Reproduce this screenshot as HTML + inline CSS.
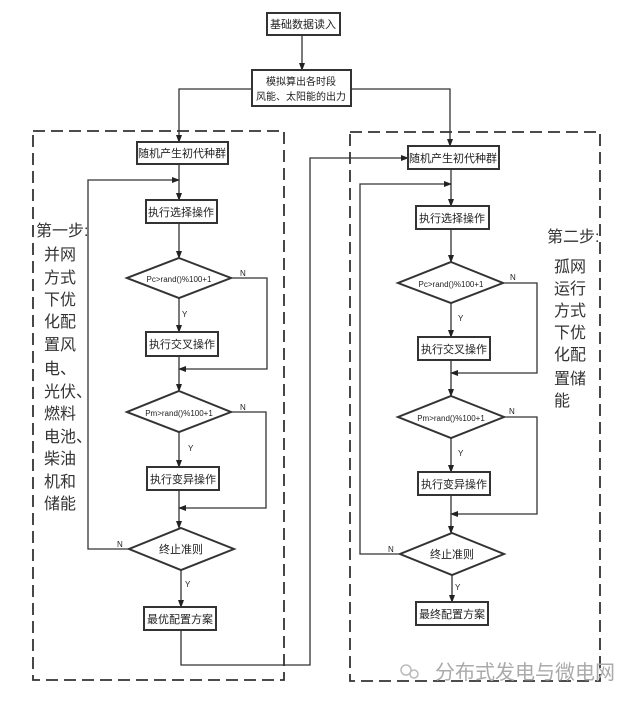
<!DOCTYPE html>
<html><head><meta charset="utf-8"><style>
html,body{margin:0;padding:0;background:#fff;width:640px;height:702px;overflow:hidden}
svg text{font-family:"Liberation Sans","Noto Sans CJK SC",sans-serif}
</style></head><body>
<svg width="640" height="702" viewBox="0 0 640 702" xmlns="http://www.w3.org/2000/svg">
<defs><marker id="a" markerWidth="8" markerHeight="8" refX="7" refY="4" orient="auto" markerUnits="userSpaceOnUse"><path d="M0,1 L8,4 L0,7 z" fill="#222"/></marker></defs>
<g fill="none" stroke="#333" stroke-width="1.3">
<rect x="33" y="131" width="251" height="549" stroke-dasharray="12,6" stroke-width="1.8"/>
<rect x="350" y="132" width="250" height="549" stroke-dasharray="12,6" stroke-width="1.8"/>
<rect x="267" y="13" width="73" height="22" stroke-width="2"/>
<line x1="302" y1="35" x2="302" y2="70" marker-end="url(#a)"/>
<rect x="252" y="70" width="99" height="36" stroke-width="2"/>
<polyline points="252,89 179,89 179,142" marker-end="url(#a)"/>
<polyline points="351,89 450,89 450,146" marker-end="url(#a)"/>
<rect x="137" y="142" width="91" height="22" stroke-width="2"/>
<line x1="179" y1="164" x2="179" y2="200" marker-end="url(#a)"/>
<polyline points="129,549 88,549 88,180 179,180" marker-end="url(#a)"/>
<rect x="146" y="200" width="71" height="23" stroke-width="2"/>
<line x1="179" y1="223" x2="179" y2="258" marker-end="url(#a)"/>
<polygon points="179,258 231,278 179,298 127,278" stroke-width="2"/>
<polyline points="231,278 267,278 267,369 179,369" marker-end="url(#a)"/>
<line x1="179" y1="298" x2="179" y2="332" marker-end="url(#a)"/>
<rect x="146" y="332" width="72" height="24" stroke-width="2"/>
<line x1="179" y1="356" x2="179" y2="391" marker-end="url(#a)"/>
<polygon points="179,391 231,412 179,432 127,412" stroke-width="2"/>
<polyline points="231,412 266,412 266,508 179,508" marker-end="url(#a)"/>
<line x1="179" y1="432" x2="179" y2="467" marker-end="url(#a)"/>
<rect x="147" y="467" width="72" height="23" stroke-width="2"/>
<line x1="179" y1="490" x2="179" y2="528" marker-end="url(#a)"/>
<polygon points="181,528 234,549 181,570 129,549" stroke-width="2"/>
<line x1="181" y1="570" x2="181" y2="607" marker-end="url(#a)"/>
<rect x="144" y="607" width="72" height="23" stroke-width="2"/>
<polyline points="181,630 181,665 310,665 310,158 408,158" marker-end="url(#a)"/>
<rect x="408" y="146" width="91" height="23" stroke-width="2"/>
<line x1="451" y1="169" x2="451" y2="206" marker-end="url(#a)"/>
<polyline points="400,554 360,554 360,184 451,184" marker-end="url(#a)"/>
<rect x="416" y="206" width="73" height="23" stroke-width="2"/>
<line x1="451" y1="229" x2="451" y2="262" marker-end="url(#a)"/>
<polygon points="451,262 503,283 451,303 398,283" stroke-width="2"/>
<polyline points="503,283 537,283 537,373 451,373" marker-end="url(#a)"/>
<line x1="451" y1="303" x2="451" y2="337" marker-end="url(#a)"/>
<rect x="418" y="337" width="72" height="23" stroke-width="2"/>
<line x1="451" y1="360" x2="451" y2="396" marker-end="url(#a)"/>
<polygon points="451,396 504,417 451,438 398,417" stroke-width="2"/>
<polyline points="504,417 537,417 537,514 451,514" marker-end="url(#a)"/>
<line x1="451" y1="438" x2="451" y2="472" marker-end="url(#a)"/>
<rect x="418" y="472" width="72" height="23" stroke-width="2"/>
<line x1="451" y1="495" x2="451" y2="533" marker-end="url(#a)"/>
<polygon points="452,533 504,554 452,575 400,554" stroke-width="2"/>
<line x1="452" y1="575" x2="452" y2="602" marker-end="url(#a)"/>
<rect x="416" y="602" width="72" height="23" stroke-width="2"/>
</g>
<g font-size="11" fill="#222" text-anchor="middle">
<text x="303" y="28">基础数据读入</text>
<text x="301" y="85" font-size="10">模拟算出各时段</text>
<text x="301" y="100" font-size="10">风能、太阳能的出力</text>
<text x="182" y="157">随机产生初代种群</text>
<text x="181" y="216">执行选择操作</text>
<text x="179" y="282" font-size="8">Pc&gt;rand()%100+1</text>
<text x="182" y="348">执行交叉操作</text>
<text x="179" y="416" font-size="8">Pm&gt;rand()%100+1</text>
<text x="183" y="483">执行变异操作</text>
<text x="181" y="553">终止准则</text>
<text x="180" y="623">最优配置方案</text>
<text x="453" y="162">随机产生初代种群</text>
<text x="452" y="222">执行选择操作</text>
<text x="451" y="287" font-size="8">Pc&gt;rand()%100+1</text>
<text x="454" y="353">执行交叉操作</text>
<text x="451" y="421" font-size="8">Pm&gt;rand()%100+1</text>
<text x="454" y="488">执行变异操作</text>
<text x="452" y="558">终止准则</text>
<text x="452" y="618">最终配置方案</text>
</g>
<g font-size="8" fill="#222">
<text x="240" y="276">N</text><text x="182" y="317">Y</text>
<text x="240" y="410">N</text><text x="188" y="451">Y</text>
<text x="117" y="547">N</text><text x="185" y="587">Y</text>
<text x="510" y="280">N</text><text x="458" y="321">Y</text>
<text x="509" y="414">N</text><text x="458" y="456">Y</text>
<text x="388" y="552">N</text><text x="455" y="590">Y</text>
</g>
<g font-size="16" fill="#333">
<text x="36" y="236">第一步:</text>
<text x="44" y="260">并网</text><text x="44" y="283">方式</text><text x="44" y="305">下优</text>
<text x="44" y="327">化配</text><text x="44" y="350">置风</text><text x="44" y="374">电、</text>
<text x="44" y="397">光伏、</text><text x="44" y="419">燃料</text><text x="44" y="442">电池、</text>
<text x="44" y="464">柴油</text><text x="44" y="487">机和</text><text x="44" y="509">储能</text>
<text x="547" y="242">第二步:</text>
<text x="554" y="272">孤网</text><text x="554" y="294">运行</text><text x="554" y="316">方式</text>
<text x="554" y="338">下优</text><text x="554" y="360">化配</text><text x="554" y="384">置储</text>
<text x="554" y="406">能</text>
</g>
<g fill="none" stroke="#bbb" stroke-width="1.5"><circle cx="406" cy="670" r="5"/><circle cx="414" cy="674" r="4"/></g>
<text x="435" y="679" font-size="20" fill="#aaa">分布式发电与微电网</text>
</svg>
</body></html>
